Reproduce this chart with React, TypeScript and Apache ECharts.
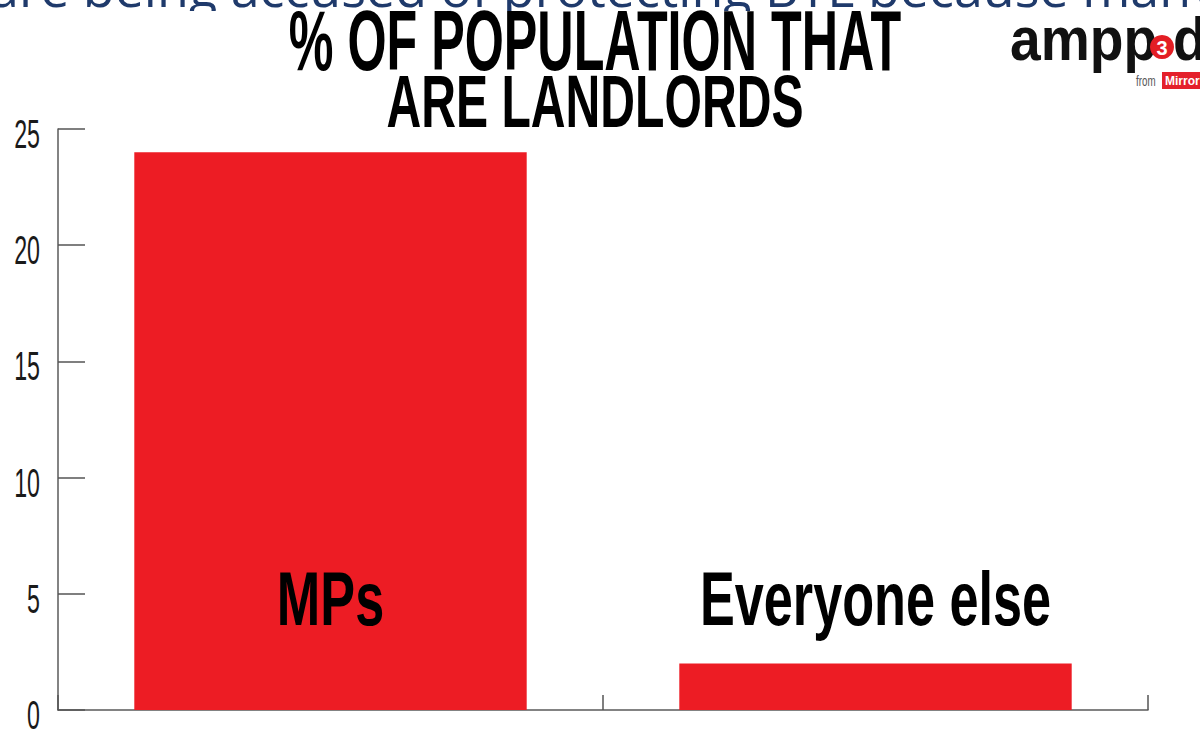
import React, { useEffect, useRef } from "react";
import * as echarts from "echarts";

const categories = ["MPs", "Everyone else"];
const values = [24, 2];
const yTickValues = [0, 5, 10, 15, 20, 25];
const titleLines = ["% OF POPULATION THAT", "ARE LANDLORDS"];
const headline = "are being accused of protecting BTL because many";

const SANS = "'Liberation Sans', Arial, sans-serif";

export default function App() {
  const ref = useRef<HTMLDivElement>(null);
  useEffect(() => {
    if (!ref.current) return;
    const chart = echarts.init(ref.current, undefined, { renderer: "svg" });
    chart.setOption({
      animation: false,
      backgroundColor: "#ffffff",
      grid: { left: 58, right: 52, top: 129, bottom: 21, containLabel: false, outerBoundsMode: "none" },
      xAxis: {
        type: "category",
        data: categories,
        boundaryGap: true,
        axisLine: { show: true, lineStyle: { color: "#5a5a5a", width: 1.5 } },
        axisTick: { show: true, inside: true, length: 15, alignWithLabel: false, lineStyle: { color: "#555", width: 1.5 } },
        axisLabel: { show: false },
        splitLine: { show: false },
      },
      yAxis: {
        type: "value",
        min: 0,
        max: 25,
        interval: 5,
        axisLine: { show: true, lineStyle: { color: "#5a5a5a", width: 1.5 } },
        axisTick: { show: true, inside: true, length: 27, lineStyle: { color: "#555", width: 1.5 } },
        axisLabel: { show: false },
        splitLine: { show: false },
      },
      series: [
        {
          type: "bar",
          data: values,
          barWidth: "72%",
          itemStyle: { color: "#ED1C24" },
          z: 2,
        },
        {
          type: "custom",
          clip: false,
          z: 5,
          data: categories.map((_, i) => [i, 0]),
          encode: { x: 0, y: 1 },
          renderItem: (params: any, api: any) => {
            const idx = api.value(0);
            const p = api.coord([idx, 0]);
            return {
              type: "text",
              x: p[0],
              y: p[1] - 111,
              scaleX: 0.87,
              scaleY: 1.28,
              style: {
                text: categories[idx],
                fontFamily: SANS,
                fontWeight: "bold",
                fontSize: 60,
                fill: "#000",
                align: "center",
                verticalAlign: "middle",
              },
            };
          },
        },
        {
          type: "custom",
          clip: false,
          z: 5,
          data: yTickValues.map((v) => [0, v]),
          encode: { x: 0, y: 1 },
          renderItem: (params: any, api: any) => {
            const v = api.value(1);
            const p = api.coord([0, v]);
            return {
              type: "text",
              x: params.coordSys.x - 18,
              y: p[1] + 5,
              scaleX: 0.58,
              style: {
                text: String(v),
                fontFamily: SANS,
                fontSize: 40,
                fill: "#1a1a1a",
                align: "right",
                verticalAlign: "middle",
              },
            };
          },
        },
      ],
      graphic: [
        {
          type: "text",
          z: 1,
          x: -10,
          y: -14,
          style: {
            text: headline,
            fontFamily: "'Open Sans', sans-serif",
            fontSize: 52,
            fill: "#1f3a6b",
            verticalAlign: "middle",
          },
        },
        {
          type: "rect",
          z: 2,
          shape: { x: 0, y: 11, width: 1200, height: 40 },
          style: { fill: "#ffffff" },
        },
        {
          type: "text",
          z: 3,
          x: 595,
          y: 40,
          scaleX: 0.838,
          scaleY: 1.43,
          style: {
            text: titleLines[0],
            fontFamily: SANS,
            fontWeight: "bold",
            fontSize: 60,
            fill: "#000",
            align: "center",
            verticalAlign: "middle",
          },
        },
        {
          type: "text",
          z: 3,
          x: 595,
          y: 101,
          scaleX: 0.802,
          scaleY: 1.25,
          style: {
            text: titleLines[1],
            fontFamily: SANS,
            fontWeight: "bold",
            fontSize: 60,
            fill: "#000",
            align: "center",
            verticalAlign: "middle",
          },
        },
        {
          type: "text",
          z: 3,
          x: 1010,
          y: 38,
          scaleX: 0.89,
          style: {
            text: "ampp",
            fontFamily: SANS,
            fontWeight: "bold",
            fontSize: 62,
            fill: "#111",
            verticalAlign: "middle",
          },
        },
        {
          type: "circle",
          z: 4,
          shape: { cx: 1162, cy: 47, r: 12 },
          style: { fill: "#E31E24" },
        },
        {
          type: "text",
          z: 5,
          x: 1162,
          y: 48,
          style: {
            text: "3",
            fontFamily: SANS,
            fontWeight: "bold",
            fontSize: 20,
            fill: "#fff",
            align: "center",
            verticalAlign: "middle",
          },
        },
        {
          type: "text",
          z: 3,
          x: 1173,
          y: 38,
          scaleX: 0.89,
          style: {
            text: "d",
            fontFamily: SANS,
            fontWeight: "bold",
            fontSize: 62,
            fill: "#111",
            verticalAlign: "middle",
          },
        },
        {
          type: "text",
          z: 3,
          x: 1136,
          y: 81,
          scaleX: 0.7,
          style: {
            text: "from",
            fontFamily: SANS,
            fontSize: 14,
            fill: "#555",
            verticalAlign: "middle",
          },
        },
        {
          type: "rect",
          z: 3,
          shape: { x: 1162, y: 72, width: 40, height: 17 },
          style: { fill: "#E4202B" },
        },
        {
          type: "text",
          z: 4,
          x: 1165,
          y: 81,
          style: {
            text: "Mirror",
            fontFamily: SANS,
            fontWeight: "bold",
            fontSize: 12,
            fill: "#fff",
            verticalAlign: "middle",
          },
        },
      ],
    });
    return () => chart.dispose();
  }, []);
  return (
    <div
      ref={ref}
      style={{ position: "fixed", left: 0, top: 0, width: "1200px", height: "731px", background: "#fff" }}
    />
  );
}
